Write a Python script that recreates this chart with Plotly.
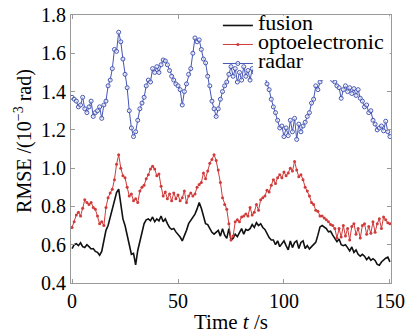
import plotly.graph_objects as go

time_s = list(range(0, 151))

radar = [1.37, 1.36, 1.35, 1.32, 1.33, 1.37, 1.31, 1.29, 1.32, 1.35,
         1.27, 1.29, 1.30, 1.32, 1.26, 1.33, 1.35, 1.43, 1.46, 1.52,
         1.62, 1.61, 1.71, 1.66, 1.57, 1.49, 1.42, 1.30, 1.21, 1.165,
         1.19, 1.25, 1.31, 1.34, 1.37, 1.43, 1.46, 1.45, 1.52, 1.50,
         1.53, 1.50, 1.54, 1.565, 1.56, 1.54, 1.51, 1.48, 1.46, 1.44,
         1.43, 1.41, 1.33, 1.40, 1.44, 1.49, 1.52, 1.60, 1.68, 1.66,
         1.67, 1.62, 1.57, 1.55, 1.48, 1.43, 1.35, 1.31, 1.27, 1.31,
         1.36, 1.40, 1.43, 1.45, 1.49, 1.53, 1.48, 1.52, 1.45, 1.50,
         1.46, 1.53, 1.48, 1.51, 1.46, 1.52, 1.50, 1.52, 1.53, 1.52,
         1.50, 1.48, 1.44, 1.41, 1.36, 1.32, 1.29, 1.25, 1.21, 1.22,
         1.165, 1.21, 1.17, 1.25, 1.19, 1.26, 1.15, 1.23, 1.19, 1.22,
         1.24, 1.27, 1.29, 1.34, 1.36, 1.43, 1.41, 1.45, 1.47, 1.49,
         1.50, 1.51, 1.49, 1.46, 1.45, 1.43, 1.42, 1.365, 1.41, 1.43,
         1.40, 1.42, 1.39, 1.415, 1.38, 1.41, 1.365, 1.35, 1.32, 1.33,
         1.29, 1.30, 1.25, 1.23, 1.20, 1.21, 1.22, 1.195, 1.245, 1.19,
         1.165]

optoelectronic = [0.69, 0.72, 0.755, 0.77, 0.75, 0.79, 0.835, 0.82, 0.81, 0.82,
                  0.795, 0.785, 0.75, 0.71, 0.72, 0.70, 0.795, 0.845, 0.87, 0.89,
                  0.94, 1.02, 1.07, 1.00, 0.96, 0.95, 0.90, 0.855, 0.865, 0.83,
                  0.84, 0.82, 0.88, 0.90, 0.91, 0.945, 0.965, 0.995, 1.01, 0.995,
                  0.96, 0.97, 0.905, 0.855, 0.875, 0.84, 0.865, 0.83, 0.87, 0.84,
                  0.86, 0.83, 0.845, 0.88, 0.82, 0.855, 0.87, 0.855, 0.865, 0.90,
                  0.915, 0.925, 0.975, 0.945, 0.985, 1.025, 1.045, 1.07, 1.04, 0.99,
                  0.925, 0.845, 0.81, 0.785, 0.71, 0.625, 0.645, 0.72, 0.73, 0.72,
                  0.745, 0.75, 0.76, 0.75, 0.795, 0.755, 0.77, 0.81, 0.78, 0.835,
                  0.845, 0.855, 0.885, 0.875, 0.91, 0.94, 0.92, 0.95, 0.965, 0.95,
                  0.98, 0.96, 0.975, 1.00, 0.985, 1.035, 0.99, 0.955, 0.965, 0.94,
                  0.90, 0.88, 0.855, 0.82, 0.81, 0.78, 0.775, 0.75, 0.75, 0.74,
                  0.73, 0.72, 0.705, 0.70, 0.685, 0.635, 0.685, 0.64, 0.70, 0.645,
                  0.685, 0.625, 0.695, 0.71, 0.655, 0.685, 0.635, 0.70, 0.71, 0.655,
                  0.695, 0.66, 0.72, 0.665, 0.71, 0.735, 0.685, 0.745, 0.73, 0.715,
                  0.71]

fusion = [0.58, 0.60, 0.605, 0.595, 0.61, 0.59, 0.585, 0.60, 0.59, 0.578,
          0.58, 0.565, 0.56, 0.545, 0.565, 0.612, 0.675, 0.70, 0.745, 0.79,
          0.82, 0.872, 0.89, 0.81, 0.735, 0.70, 0.655, 0.60, 0.55, 0.555,
          0.495, 0.57, 0.62, 0.665, 0.71, 0.73, 0.735, 0.725, 0.745, 0.72,
          0.735, 0.725, 0.75, 0.72, 0.735, 0.71, 0.69, 0.68, 0.685, 0.667,
          0.655, 0.64, 0.62, 0.645, 0.675, 0.71, 0.727, 0.75, 0.76, 0.787,
          0.82, 0.79, 0.753, 0.71, 0.705, 0.684, 0.665, 0.655, 0.667, 0.675,
          0.645, 0.684, 0.65, 0.633, 0.684, 0.625, 0.633, 0.655, 0.642, 0.665,
          0.684, 0.655, 0.68, 0.675, 0.684, 0.705, 0.69, 0.715, 0.70, 0.71,
          0.69, 0.68, 0.655, 0.637, 0.625, 0.625, 0.60, 0.62, 0.59, 0.607,
          0.62, 0.595, 0.573, 0.62, 0.585, 0.612, 0.62, 0.58, 0.612, 0.62,
          0.58, 0.595, 0.578, 0.59, 0.60, 0.612, 0.65, 0.693, 0.70, 0.69,
          0.684, 0.667, 0.67, 0.65, 0.633, 0.616, 0.63, 0.60, 0.595, 0.60,
          0.585, 0.568, 0.588, 0.56, 0.573, 0.55, 0.54, 0.55, 0.54, 0.522,
          0.535, 0.518, 0.527, 0.518, 0.497, 0.493, 0.51, 0.522, 0.53, 0.535,
          0.51]

x_ticks = [0, 50, 100, 150]
y_ticks = [0.4, 0.6, 0.8, 1.0, 1.2, 1.4, 1.6, 1.8]

FONT = "Liberation Serif"
LEG = '<span style="font-size:22px">{}</span>'

fig = go.Figure()
fig.add_trace(go.Scatter(
    x=time_s, y=fusion, mode="lines", name=LEG.format("fusion"),
    line=dict(color="#111111", width=1.6)))
fig.add_trace(go.Scatter(
    x=time_s, y=optoelectronic, mode="lines+markers",
    name=LEG.format("optoelectronic"),
    line=dict(color="#d03a3a", width=1),
    marker=dict(size=3, color="#d03a3a")))
fig.add_trace(go.Scatter(
    x=time_s, y=radar, mode="lines+markers", name=LEG.format("radar"),
    line=dict(color="#4656b4", width=1),
    marker=dict(size=4, color="rgba(255,255,255,0.6)", symbol="circle",
                line=dict(color="#4656b4", width=1))))

# white background behind the legend text (as in the reference legend box)
fig.add_shape(type="rect", xref="paper", yref="y",
              x0=0.569, x1=0.996, y0=1.46, y1=1.796,
              fillcolor="white", line=dict(width=0), layer="above")

# y-axis title placed as a rotated annotation so it sits where the reference has it
fig.add_annotation(text="RMSE /(10<sup>−3</sup> rad)", textangle=-90,
                   xref="paper", yref="paper", x=-0.147, y=0.53,
                   xanchor="center", yanchor="middle", showarrow=False,
                   font=dict(family=FONT, size=20, color="black"))

axis_common = dict(
    showline=True, linecolor="#999999", linewidth=1, mirror="ticks",
    ticks="inside", ticklen=4, tickcolor="#999999",
    showgrid=False, zeroline=False, automargin=False,
    ticklabeloverflow="allow",
    tickfont=dict(family=FONT, size=20, color="black"),
)

fig.update_layout(
    width=406, height=336,
    margin=dict(l=71, r=15, t=15, b=53, autoexpand=False),
    paper_bgcolor="white", plot_bgcolor="white",
    showlegend=True,
    legend=dict(x=0.459, y=1.015, xanchor="left", yanchor="top",
                bgcolor="rgba(0,0,0,0)", borderwidth=0,
                font=dict(family=FONT, size=12, color="black"),
                itemwidth=30),
    xaxis=dict(range=[-0.5, 150.5], tickvals=x_ticks,
               title=dict(text="Time <i>t</i> /s", standoff=3,
                          font=dict(family=FONT, size=21, color="black")),
               **axis_common),
    yaxis=dict(range=[0.4, 1.8], tickvals=y_ticks, tickformat=".1f",
               **axis_common),
)

fig.write_html("out.html",
               config={"displayModeBar": False},
               post_script="document.body.style.margin='0';"
                           "document.body.style.overflow='hidden';")
